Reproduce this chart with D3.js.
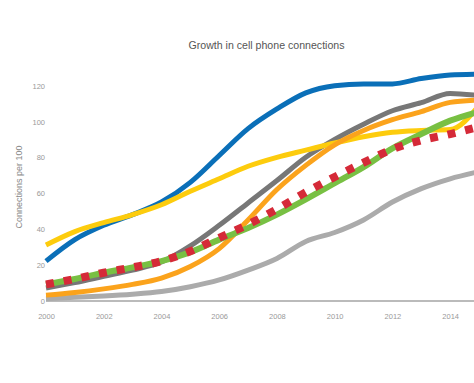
<!DOCTYPE html>
<html><head><meta charset="utf-8">
<script src="https://cdn.jsdelivr.net/npm/d3@7"></script>
<style>html,body{margin:0;padding:0;background:#fff;overflow:hidden}svg{display:block}</style>
</head><body>
<script>
const years = [2000,2001,2002,2003,2004,2005,2006,2007,2008,2009,2010,2011,2012,2013,2014,2015];
const blueSeries   = [22,34,42,48,55,66,81,96,107,116,120,121,121,124,126,126.5];
const yellowSeries = [31,38.5,43.5,48,53.5,61,68,75,80,84,88,91.5,94,95,95.5,109];
const darkGraySeries = [7,10,13.5,17,21.5,30.5,42,54.5,67,80,90,98.5,106,110.5,115.7,114.5];
const orangeSeries = [3,4.5,6.5,9,12.5,19,29,45,62,75.5,87,95,101,105.5,110.7,112];
const greenSeries  = [9,12,15.5,18.5,22,27,34,40.5,48,56.5,65.5,74.5,85,93,100.5,105.5];
const redSeries    = [9,12,15.5,18.5,22,27.5,35,42.5,51,60.5,69,77,84.5,89.5,93,97];
const lightGraySeries = [1,1.8,2.5,3.5,5,7.7,11.5,17,23.5,33,38,45,55,62.5,68,72];
const xTicks = [2000,2002,2004,2006,2008,2010,2012,2014];
const yTicks = [0,20,40,60,80,100,120];
const title = "Growth in cell phone connections";
const yTitle = "Connections per 100";

const W = 474, H = 383;
const svg = d3.select("body").append("svg").attr("width", W).attr("height", H);

const x = d3.scaleLinear().domain([2000, 2015]).range([46, 479]);
const y = d3.scaleLinear().domain([0, 120]).range([300.5, 85.7]);

// title
svg.append("text").attr("x", 266.5).attr("y", 49).attr("text-anchor","middle")
  .style("font-family","'Liberation Sans', Arial, sans-serif").style("font-size","10.6px")
  .attr("fill","#555").text(title);

// y axis title
svg.append("text").attr("transform","translate(22,187) rotate(-90)").attr("text-anchor","middle")
  .style("font-family","'Liberation Sans', Arial, sans-serif").style("font-size","9px")
  .attr("fill","#888").text(yTitle);

// y axis ticks (labels only)
const yAxis = d3.axisLeft(y).tickValues(yTicks).tickSize(0).tickPadding(0);
const gy = svg.append("g").attr("transform","translate(45,0)").call(yAxis);
gy.select(".domain").remove();
gy.selectAll("text").attr("fill","#999").attr("dy","0.35em")
  .style("font-family","'Liberation Sans', Arial, sans-serif").style("font-size","7.5px");

// x axis
const xAxis = d3.axisBottom(x).tickValues(xTicks).tickFormat(d3.format("d")).tickSize(0).tickPadding(0);
const gx = svg.append("g").attr("transform","translate(0,300.5)").call(xAxis);
gx.select(".domain").remove();
gx.selectAll("text").attr("fill","#999").attr("y", 16).attr("dy","0.35em")
  .style("font-family","'Liberation Sans', Arial, sans-serif").style("font-size","7.5px");
svg.append("line").attr("x1", x(2000)).attr("x2", x(2015)).attr("y1", y(0)+0.5).attr("y2", y(0)+0.5)
  .attr("stroke","#bbb").attr("stroke-width",2);

const series = [
  {v: lightGraySeries, c:"#ababab", w:5},
  {v: darkGraySeries, c:"#777777", w:5},
  {v: blueSeries, c:"#0a6fb8", w:5},
  {v: yellowSeries, c:"#fdcc0d", w:5},
  {v: orangeSeries, c:"#fba31c", w:5},
  {v: greenSeries, c:"#78c043", w:6},
  {v: redSeries, c:"#d52a38", w:8, dash:"8,10"}
];
const line = d3.line().x((d,i)=>x(years[i])).y(d=>y(d)).curve(d3.curveMonotoneX);
series.forEach(s=>{
  svg.append("path").attr("d", line(s.v)).attr("fill","none")
    .attr("stroke", s.c).attr("stroke-width", s.w)
    .attr("stroke-linejoin","round")
    .attr("stroke-dasharray", s.dash || null);
});
</script>
</body></html>
